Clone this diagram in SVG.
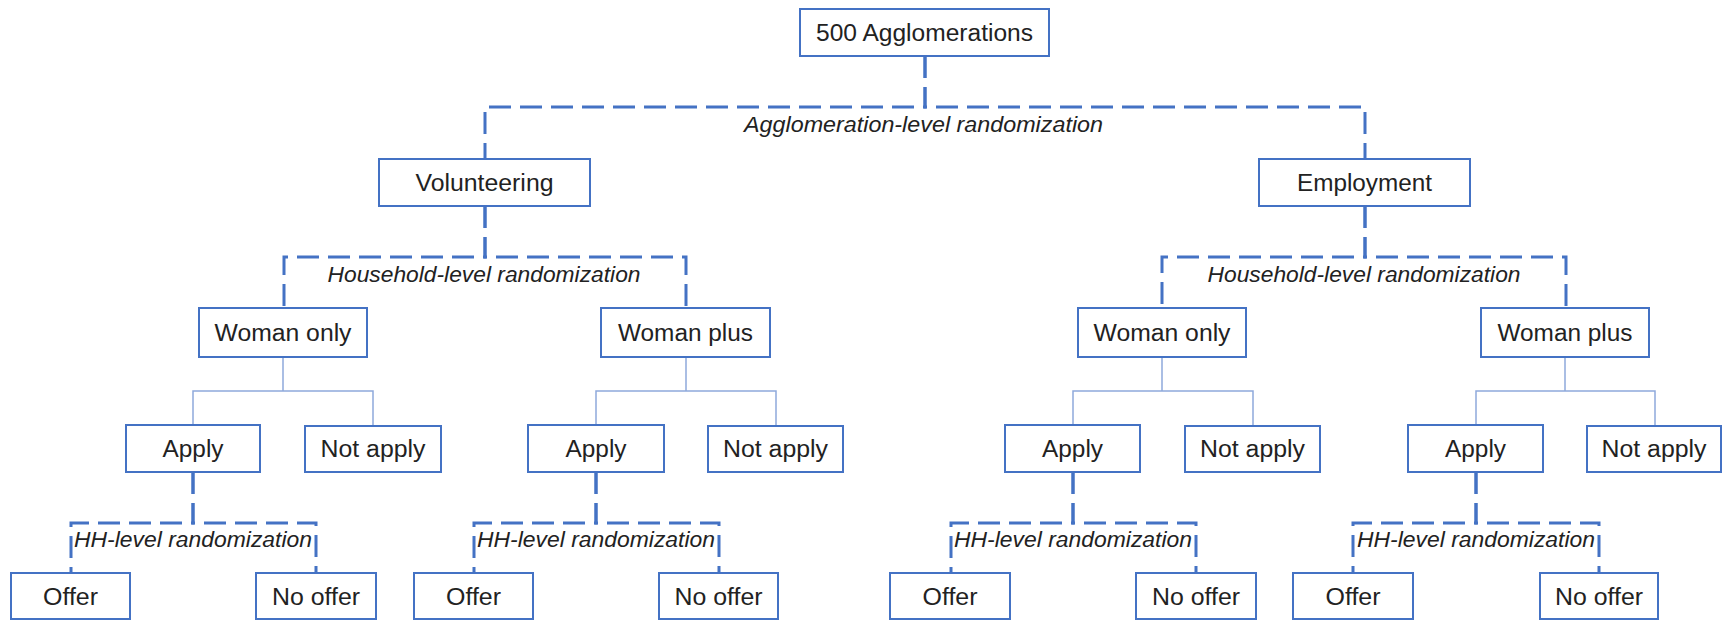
<svg xmlns="http://www.w3.org/2000/svg" width="1723" height="621" viewBox="0 0 1723 621">
<style>
.box{fill:#fff;stroke:#4472C4;stroke-width:2}
.lbl{font-family:"Liberation Sans",Arial,sans-serif;font-size:23px;fill:#222;text-anchor:middle}
.it{font-family:"Liberation Sans",Arial,sans-serif;font-size:22px;font-style:italic;fill:#222;text-anchor:middle}
.dash{fill:none;stroke:#4472C4;stroke-width:3;stroke-dasharray:22 9}
.thin{fill:none;stroke:#8EA9DB;stroke-width:1.5}
</style>
<rect width="1723" height="621" fill="#fff"/>
<g id="connectors">
  <path class="dash" d="M925,56 V107 H485 V159"/>
  <path class="dash" d="M925,56 V107 H1365 V159"/>
  <path class="dash" d="M485,206 V257 H284 V308"/>
  <path class="dash" d="M485,206 V257 H686 V308"/>
  <path class="dash" d="M1365,206 V257 H1162 V308"/>
  <path class="dash" d="M1365,206 V257 H1566 V308"/>
  <path class="thin" d="M283,357 V391 H193 V425 M283,391 H373 V426"/>
  <path class="thin" d="M686,357 V391 H596 V425 M686,391 H776 V426"/>
  <path class="thin" d="M1162,357 V391 H1073 V425 M1162,391 H1253 V426"/>
  <path class="thin" d="M1565,357 V391 H1476 V425 M1565,391 H1655 V426"/>
  <path class="dash" d="M193,472 V523 H71 V573"/>
  <path class="dash" d="M193,472 V523 H316 V573"/>
  <path class="dash" d="M596,472 V523 H474 V573"/>
  <path class="dash" d="M596,472 V523 H719 V573"/>
  <path class="dash" d="M1073,472 V523 H951 V573"/>
  <path class="dash" d="M1073,472 V523 H1196 V573"/>
  <path class="dash" d="M1476,472 V523 H1353 V573"/>
  <path class="dash" d="M1476,472 V523 H1599 V573"/>
  <text class="it" x="923.5" y="132" textLength="359" lengthAdjust="spacingAndGlyphs">Agglomeration-level randomization</text>
  <text class="it" x="484" y="282" textLength="313" lengthAdjust="spacingAndGlyphs">Household-level randomization</text>
  <text class="it" x="1364" y="282" textLength="313" lengthAdjust="spacingAndGlyphs">Household-level randomization</text>
  <text class="it" x="193" y="547" textLength="238" lengthAdjust="spacingAndGlyphs">HH-level randomization</text>
  <text class="it" x="596" y="547" textLength="238" lengthAdjust="spacingAndGlyphs">HH-level randomization</text>
  <text class="it" x="1073" y="547" textLength="238" lengthAdjust="spacingAndGlyphs">HH-level randomization</text>
  <text class="it" x="1476" y="547" textLength="238" lengthAdjust="spacingAndGlyphs">HH-level randomization</text>
</g>
<g id="n-top"><rect class="box" x="800" y="9" width="249" height="47"/><text class="lbl" x="924.5" y="41" textLength="217" lengthAdjust="spacingAndGlyphs">500 Agglomerations</text></g>
<g id="n-vol"><rect class="box" x="379" y="159" width="211" height="47"/><text class="lbl" x="484.5" y="191" textLength="138" lengthAdjust="spacingAndGlyphs">Volunteering</text></g>
<g id="n-emp"><rect class="box" x="1259" y="159" width="211" height="47"/><text class="lbl" x="1364.5" y="191" textLength="135" lengthAdjust="spacingAndGlyphs">Employment</text></g>
<g id="n-wo1"><rect class="box" x="199" y="308" width="168" height="49"/><text class="lbl" x="283" y="341" textLength="137" lengthAdjust="spacingAndGlyphs">Woman only</text></g>
<g id="n-wp1"><rect class="box" x="601" y="308" width="169" height="49"/><text class="lbl" x="685.5" y="341" textLength="135" lengthAdjust="spacingAndGlyphs">Woman plus</text></g>
<g id="n-wo2"><rect class="box" x="1078" y="308" width="168" height="49"/><text class="lbl" x="1162" y="341" textLength="137" lengthAdjust="spacingAndGlyphs">Woman only</text></g>
<g id="n-wp2"><rect class="box" x="1481" y="308" width="168" height="49"/><text class="lbl" x="1565" y="341" textLength="135" lengthAdjust="spacingAndGlyphs">Woman plus</text></g>
<g id="n-ap1"><rect class="box" x="126" y="425" width="134" height="47"/><text class="lbl" x="193" y="457" textLength="61" lengthAdjust="spacingAndGlyphs">Apply</text></g>
<g id="n-na1"><rect class="box" x="305" y="426" width="136" height="46"/><text class="lbl" x="373" y="457" textLength="105" lengthAdjust="spacingAndGlyphs">Not apply</text></g>
<g id="n-ap2"><rect class="box" x="528" y="425" width="136" height="47"/><text class="lbl" x="596" y="457" textLength="61" lengthAdjust="spacingAndGlyphs">Apply</text></g>
<g id="n-na2"><rect class="box" x="708" y="426" width="135" height="46"/><text class="lbl" x="775.5" y="457" textLength="105" lengthAdjust="spacingAndGlyphs">Not apply</text></g>
<g id="n-ap3"><rect class="box" x="1005" y="425" width="135" height="47"/><text class="lbl" x="1072.5" y="457" textLength="61" lengthAdjust="spacingAndGlyphs">Apply</text></g>
<g id="n-na3"><rect class="box" x="1185" y="426" width="135" height="46"/><text class="lbl" x="1252.5" y="457" textLength="105" lengthAdjust="spacingAndGlyphs">Not apply</text></g>
<g id="n-ap4"><rect class="box" x="1408" y="425" width="135" height="47"/><text class="lbl" x="1475.5" y="457" textLength="61" lengthAdjust="spacingAndGlyphs">Apply</text></g>
<g id="n-na4"><rect class="box" x="1587" y="426" width="134" height="46"/><text class="lbl" x="1654" y="457" textLength="105" lengthAdjust="spacingAndGlyphs">Not apply</text></g>
<g id="n-of1"><rect class="box" x="11" y="573" width="119" height="46"/><text class="lbl" x="70.5" y="605" textLength="55" lengthAdjust="spacingAndGlyphs">Offer</text></g>
<g id="n-no1"><rect class="box" x="256" y="573" width="120" height="46"/><text class="lbl" x="316" y="605" textLength="88" lengthAdjust="spacingAndGlyphs">No offer</text></g>
<g id="n-of2"><rect class="box" x="414" y="573" width="119" height="46"/><text class="lbl" x="473.5" y="605" textLength="55" lengthAdjust="spacingAndGlyphs">Offer</text></g>
<g id="n-no2"><rect class="box" x="659" y="573" width="119" height="46"/><text class="lbl" x="718.5" y="605" textLength="88" lengthAdjust="spacingAndGlyphs">No offer</text></g>
<g id="n-of3"><rect class="box" x="890" y="573" width="120" height="46"/><text class="lbl" x="950" y="605" textLength="55" lengthAdjust="spacingAndGlyphs">Offer</text></g>
<g id="n-no3"><rect class="box" x="1136" y="573" width="120" height="46"/><text class="lbl" x="1196" y="605" textLength="88" lengthAdjust="spacingAndGlyphs">No offer</text></g>
<g id="n-of4"><rect class="box" x="1293" y="573" width="120" height="46"/><text class="lbl" x="1353" y="605" textLength="55" lengthAdjust="spacingAndGlyphs">Offer</text></g>
<g id="n-no4"><rect class="box" x="1540" y="573" width="118" height="46"/><text class="lbl" x="1599" y="605" textLength="88" lengthAdjust="spacingAndGlyphs">No offer</text></g>
</svg>
